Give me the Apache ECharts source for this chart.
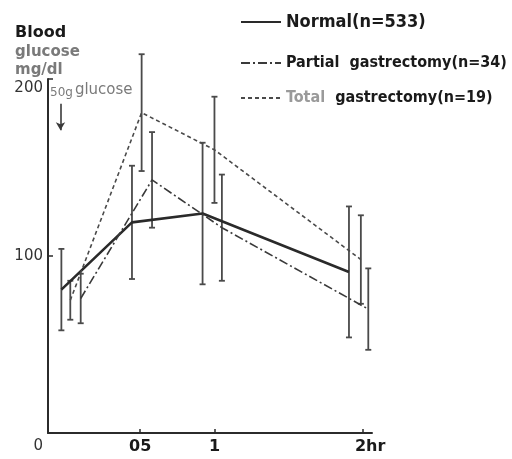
<!DOCTYPE html>
<html>
<head>
<meta charset="utf-8">
<script src="https://cdn.jsdelivr.net/npm/echarts@6/dist/echarts.min.js"></script>
<style>
  html, body { margin: 0; padding: 0; background: #fff; }
  #chart { width: 512px; height: 459px; }
</style>
</head>
<body>
<div id="chart"></div>
<script>
// Oral glucose tolerance (50 g load): mean blood glucose ± SD, mg/dl.
// Plotted time positions (hours) are staggered per group so the bars don't overlap.
const seriesNames = ['Normal(n=533)', 'Partial gastrectomy(n=34)', 'Total gastrectomy(n=19)'];

const normalHours  = [-0.03, 0.445, 0.92, 1.905];
const normalMean   = [81, 119, 124, 91];
const normalSD     = [23, 32, 40, 37];

const partialHours = [0.10, 0.58, 1.05, 2.035];
const partialMean  = [76, 143, 116, 70];
const partialSD    = [14, 27, 30, 23];

const totalHours   = [0.03, 0.51, 1.0, 1.985];
const totalMean    = [75, 181, 160, 98];
const totalSD      = [11, 33, 30, 25];

const xTickValues  = [0.5, 1, 2];
const xTickLabels  = ['05', '1', '2hr'];

const ink = '#1a1a1a';
const condensed = '"DejaVu Sans Condensed", "DejaVu Sans"';

function points(hours, mean) {
  return hours.map((h, i) => [h, mean[i]]);
}
function ranges(hours, mean, sd) {
  return hours.map((h, i) => [h, mean[i] - sd[i], mean[i] + sd[i]]);
}

function errorBars(name, data) {
  return {
    type: 'custom',
    name: name + ' SD',
    data: data,
    z: 3,
    clip: false,
    renderItem: function (params, api) {
      const x = api.value(0);
      const top = api.coord([x, api.value(2)]);
      const bot = api.coord([x, api.value(1)]);
      const w = 3;
      const style = { stroke: '#4a4a4a', lineWidth: 1.8 };
      return {
        type: 'group',
        children: [
          { type: 'line', shape: { x1: top[0], y1: top[1], x2: bot[0], y2: bot[1] }, style: style },
          { type: 'line', shape: { x1: top[0] - w, y1: top[1], x2: top[0] + w, y2: top[1] }, style: style },
          { type: 'line', shape: { x1: bot[0] - w, y1: bot[1], x2: bot[0] + w, y2: bot[1] }, style: style }
        ]
      };
    }
  };
}

const legendText = {
  fontFamily: condensed,
  fontWeight: 'bold',
  fontSize: 16,
  color: ink,
  rich: {
    big: { fontFamily: condensed, fontWeight: 'bold', fontSize: 18, color: ink },
    b: { fontFamily: condensed, fontWeight: 'bold', fontSize: 16, color: ink },
    g: { fontFamily: condensed, fontWeight: 'bold', fontSize: 16, color: '#9a9a9a' }
  }
};

function legendAt(name, top, formatter) {
  return {
    data: [name],
    left: 240,
    top: top,
    orient: 'vertical',
    itemWidth: 40,
    itemHeight: 14,
    itemGap: 0,
    padding: 0,
    selectedMode: false,
    itemStyle: { opacity: 0 },
    textStyle: legendText,
    formatter: formatter
  };
}

const chart = echarts.init(document.getElementById('chart'), null, { renderer: 'canvas' });

chart.setOption({
  backgroundColor: '#ffffff',
  animation: false,
  grid: { left: 48, right: 140, top: 79, bottom: 26 },
  legend: [
    legendAt(seriesNames[0], 13, n => '{big|' + n + '}'),
    legendAt(seriesNames[1], 55, () => '{b|Partial  gastrectomy(n=34)}'),
    legendAt(seriesNames[2], 90, () => '{g|Total}  {b|gastrectomy(n=19)}')
  ],
  xAxis: {
    type: 'value',
    min: -0.12,
    max: 2.06,
    splitLine: { show: false },
    axisLine: { onZero: false, lineStyle: { color: '#2b2b2b', width: 2 } },
    axisTick: { inside: true, length: 4, customValues: xTickValues, lineStyle: { color: '#2b2b2b', width: 1.5 } },
    axisLabel: {
      customValues: xTickValues,
      margin: 6,
      fontFamily: 'DejaVu Sans',
      fontWeight: 'bold',
      fontSize: 16,
      color: ink,
      formatter: function (v) {
        const i = xTickValues.indexOf(v);
        const t = i >= 0 ? xTickLabels[i] : '';
        return v === 2 ? '{r|' + t + '}' : t;
      },
      rich: { r: { fontFamily: 'DejaVu Sans', fontWeight: 'bold', fontSize: 16, color: ink, padding: [0, 0, 0, 14] } }
    }
  },
  yAxis: {
    type: 'value',
    min: 0,
    max: 200,
    interval: 100,
    splitLine: { show: false },
    axisLine: { onZero: false, lineStyle: { color: '#2b2b2b', width: 2 } },
    axisTick: { inside: true, length: 5, lineStyle: { color: '#2b2b2b', width: 1.5 } },
    name: '{a|Blood}\n{g|glucose}\n{g|mg/dl}',
    nameLocation: 'end',
    nameGap: 0,
    nameTextStyle: {
      align: 'left',
      padding: [0, 0, 0, -33],
      rich: {
        a: { fontFamily: 'DejaVu Sans', fontWeight: 'bold', fontSize: 16, color: ink, lineHeight: 20 },
        g: { fontFamily: 'DejaVu Sans', fontWeight: 'bold', fontSize: 15, color: '#7a7a7a', lineHeight: 18 }
      }
    },
    axisLabel: {
      margin: 5,
      fontFamily: 'DejaVu Sans',
      fontSize: 15,
      color: '#333',
      formatter: function (v) {
        if (v === 0) return '{z|0}';
        if (v === 200) return '{t|200}';
        return String(v);
      },
      rich: {
        z: { fontFamily: 'DejaVu Sans', fontSize: 15, color: '#333', padding: [27, 0, 0, 0] },
        t: { fontFamily: 'DejaVu Sans', fontSize: 15, color: '#333', padding: [18, 0, 0, 0] }
      }
    }
  },
  graphic: [
    {
      type: 'text',
      left: 50,
      top: 83,
      style: {
        text: '{s|50g}{l|glucose}',
        rich: {
          s: { fontFamily: 'DejaVu Sans', fontSize: 12, fill: '#7a7a7a', padding: [4, 2, 0, 0] },
          l: { fontFamily: 'DejaVu Sans', fontSize: 15, fill: '#7a7a7a' }
        }
      }
    }
  ],
  series: [
    {
      name: seriesNames[0],
      type: 'line',
      data: points(normalHours, normalMean),
      symbol: 'none',
      z: 4,
      color: '#2a2a2a',
      lineStyle: { color: '#2a2a2a', width: 2.6, type: 'solid' },
      markLine: {
        silent: true,
        symbol: ['none', 'arrow'],
        symbolSize: [7, 8],
        label: { show: false },
        lineStyle: { color: '#3a3a3a', width: 1.6, type: 'solid' },
        data: [[{ coord: [-0.036, 186] }, { coord: [-0.036, 171] }]]
      }
    },
    {
      name: seriesNames[1],
      type: 'line',
      data: points(partialHours, partialMean),
      symbol: 'none',
      z: 4,
      color: '#3a3a3a',
      lineStyle: { color: '#3a3a3a', width: 1.6, type: [9, 3, 2, 3] }
    },
    {
      name: seriesNames[2],
      type: 'line',
      data: points(totalHours, totalMean),
      symbol: 'none',
      z: 4,
      color: '#4a4a4a',
      lineStyle: { color: '#4a4a4a', width: 1.6, type: [4, 3] }
    },
    errorBars(seriesNames[0], ranges(normalHours, normalMean, normalSD)),
    errorBars(seriesNames[1], ranges(partialHours, partialMean, partialSD)),
    errorBars(seriesNames[2], ranges(totalHours, totalMean, totalSD))
  ]
});
</script>
</body>
</html>
